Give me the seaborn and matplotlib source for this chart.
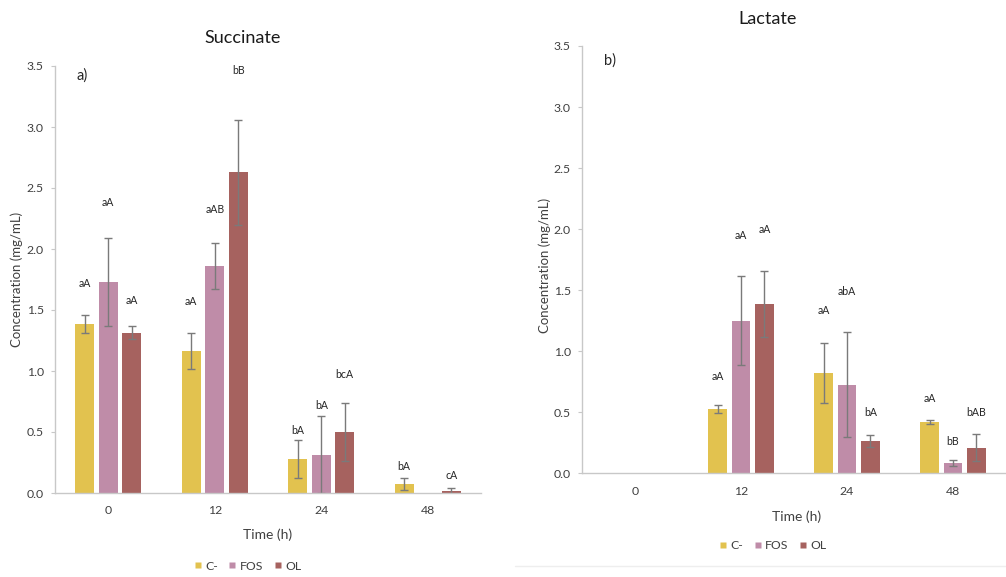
import numpy as np
import pandas as pd
import matplotlib
matplotlib.use("Agg")
import matplotlib.pyplot as plt
import seaborn as sns
from matplotlib.lines import Line2D

# ---------------- data ----------------
times = ["0", "12", "24", "48"]
treatments = ["C-", "FOS", "OL"]

succ_c = [1.385, 1.165, 0.28, 0.075]
succ_fos = [1.73, 1.86, 0.315, 0.0]
succ_ol = [1.315, 2.63, 0.50, 0.02]
succ_c_err = [0.075, 0.147, 0.155, 0.047]
succ_fos_err = [0.36, 0.19, 0.315, np.nan]
succ_ol_err = [0.05, 0.43, 0.24, 0.025]
succ_c_lab = ["aA", "aA", "bA", "bA"]
succ_fos_lab = ["aA", "aAB", "bA", ""]
succ_ol_lab = ["aA", "bB", "bcA", "cA"]
succ_c_laby = [1.72, 1.57, 0.51, 0.22]
succ_fos_laby = [2.38, 2.32, 0.72, np.nan]
succ_ol_laby = [1.58, 3.46, 0.97, 0.14]

lact_c = [0.0, 0.525, 0.82, 0.42]
lact_fos = [0.0, 1.25, 0.725, 0.085]
lact_ol = [0.0, 1.39, 0.265, 0.21]
lact_c_err = [np.nan, 0.035, 0.245, 0.02]
lact_fos_err = [np.nan, 0.365, 0.43, 0.025]
lact_ol_err = [np.nan, 0.27, 0.048, 0.11]
lact_c_lab = ["", "aA", "aA", "aA"]
lact_fos_lab = ["", "aA", "abA", "bB"]
lact_ol_lab = ["", "aA", "bA", "bAB"]
lact_c_laby = [np.nan, 0.79, 1.33, 0.61]
lact_fos_laby = [np.nan, 1.95, 1.49, 0.26]
lact_ol_laby = [np.nan, 2.0, 0.50, 0.50]

yticks = [0.0, 0.5, 1.0, 1.5, 2.0, 2.5, 3.0, 3.5]
colors = ["#E2C24F", "#BF8CA8", "#A6625F"]

FONT = ["Lato", "DejaVu Sans"]
plt.rcParams["font.family"] = FONT
sns.set_style("white")
plt.rcParams["font.family"] = FONT

fig = plt.figure(figsize=(10.06, 5.77), dpi=100)
W, H = 1006, 577


def make_df(c, f, o):
    rows = []
    for tr, vals in zip(treatments, [c, f, o]):
        for t, v in zip(times, vals):
            rows.append({"Time": t, "Treatment": tr, "Value": v})
    return pd.DataFrame(rows)


def panel(rect, vals, errs, labs, labys, title, title_xy, tag, tag_xy,
          leg_xy, xlab_xy, ylab_xy):
    ax = fig.add_axes(rect)
    df = make_df(*vals)
    sns.barplot(data=df, x="Time", y="Value", hue="Treatment", order=times,
                hue_order=treatments, palette=colors, width=0.662, gap=0.2,
                errorbar=None, ax=ax, legend=False, saturation=1,
                edgecolor="none")
    for cont, e, lab, ly in zip(ax.containers, errs, labs, labys):
        for bar, ee, ll, yy in zip(cont, e, lab, ly):
            xc = bar.get_x() + bar.get_width() / 2
            h = bar.get_height()
            if not np.isnan(ee):
                ax.errorbar(xc, h, yerr=ee, fmt="none", ecolor="#7A7A7A",
                            elinewidth=1.0, capsize=3, capthick=1.0)
            if ll:
                ax.text(xc, yy, ll, ha="center", va="center", fontsize=7.6,
                        color="#262626")
    ax.set_ylim(0, 3.5)
    ax.set_xlim(-0.5, 3.5)
    ax.set_yticks(yticks)
    ax.set_yticklabels([f"{v:.1f}" for v in yticks])
    for s in ["top", "right"]:
        ax.spines[s].set_visible(False)
    for s in ["left", "bottom"]:
        ax.spines[s].set_color("#C8C8C8")
        ax.spines[s].set_linewidth(1.0)
    ax.tick_params(axis="y", length=3, color="#C8C8C8", pad=5,
                   labelsize=8.8, labelcolor="#404040", left=True)
    ax.tick_params(axis="x", length=0, pad=9, labelsize=8.8,
                   labelcolor="#404040")
    ax.set_xlabel("Time (h)", fontsize=10, color="#404040")
    ax.xaxis.set_label_coords(*xlab_xy)
    ax.set_ylabel("Concentration (mg/mL)", fontsize=9.5, color="#404040")
    ax.yaxis.set_label_coords(*ylab_xy)
    ax.text(tag_xy[0], tag_xy[1], tag, transform=ax.transAxes, fontsize=10.5,
            ha="left", va="center", color="#262626")
    fig.text(title_xy[0] / W, 1 - title_xy[1] / H, title, fontsize=13,
             ha="center", va="center", color="#1A1A1A")
    handles = [Line2D([], [], marker="s", linestyle="none", markersize=5,
                      markerfacecolor=c, markeredgecolor="none")
               for c in colors]
    ax.legend(handles, treatments, loc="center", bbox_to_anchor=leg_xy,
              ncol=3, frameon=False, fontsize=8.8, handletextpad=0.0,
              handlelength=1.2, columnspacing=0.6, labelcolor="#404040")
    return ax


panel([55 / W, 1 - 493 / H, 426 / W, 427 / H],
      [succ_c, succ_fos, succ_ol],
      [succ_c_err, succ_fos_err, succ_ol_err],
      [succ_c_lab, succ_fos_lab, succ_ol_lab],
      [succ_c_laby, succ_fos_laby, succ_ol_laby],
      "Succinate", (243, 38), "a)", (0.05, 0.978),
      (0.448, -0.171), (0.5, -0.084), (-0.075, 0.5))

panel([582 / W, 1 - 473.3 / H, 424 / W, 427.3 / H],
      [lact_c, lact_fos, lact_ol],
      [lact_c_err, lact_fos_err, lact_ol_err],
      [lact_c_lab, lact_fos_lab, lact_ol_lab],
      [lact_c_laby, lact_fos_laby, lact_ol_laby],
      "Lactate", (768, 19), "b)", (0.052, 0.966),
      (0.446, -0.170), (0.505, -0.086), (-0.073, 0.486))

fig.add_artist(Line2D([515 / W, 1.0], [1 - 566 / H, 1 - 566 / H],
                      color="#EEEEEE", linewidth=1.0))

fig.savefig("out.png", dpi=100)
